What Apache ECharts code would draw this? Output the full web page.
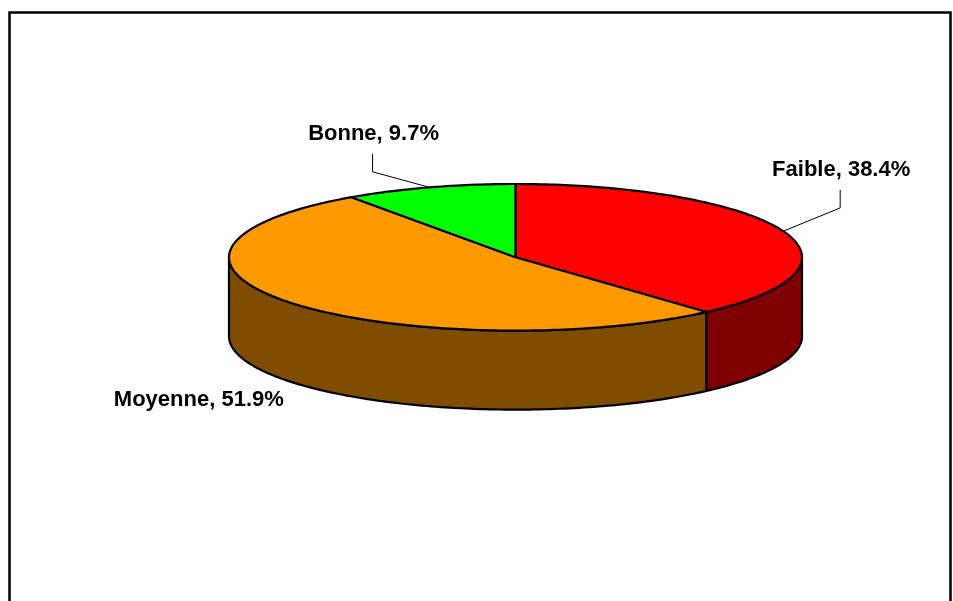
<!DOCTYPE html>
<html>
<head>
<meta charset="utf-8">
<script src="https://cdn.jsdelivr.net/npm/echarts@6/dist/echarts.min.js"></script>
<style>
  html, body { margin: 0; padding: 0; background: #fff; }
  #chart { width: 953px; height: 601px; }
</style>
</head>
<body>
<div id="chart"></div>
<script>
// Survey result shares
const categories = ['Faible', 'Moyenne', 'Bonne'];
const shares = [38.4, 51.9, 9.7];
const topColors = ['#FF0000', '#FF9900', '#00FF00'];
const sideColors = ['#800000', '#804C00', '#008000'];

// Pie thickness, in units of the ellipse's vertical radius
const DEPTH = 1.078;
const LABEL_FONT = 'bold 22px "Liberation Sans", Arial, sans-serif';

const total = shares.reduce((a, b) => a + b, 0);
const starts = [];
let acc = 0;
shares.forEach(v => { starts.push(acc); acc += v; });

function arcPoints(api, a0, a1, level) {
  const pts = [];
  const steps = Math.max(2, Math.ceil((a1 - a0) / (Math.PI / 180)));
  for (let k = 0; k <= steps; k++) {
    const t = a0 + (a1 - a0) * k / steps;
    pts.push(api.coord([Math.sin(t), Math.cos(t) - level * DEPTH]));
  }
  return pts;
}

function renderSlice(params, api) {
  const i = params.dataIndex;
  const value = api.value(0);
  const a0 = starts[i] / total * Math.PI * 2;
  const a1 = (starts[i] + value) / total * Math.PI * 2;
  const children = [];
  const lineStyle = { stroke: '#000', lineWidth: 2.2, lineJoin: 'round' };

  // front wall, visible between 90 and 270 degrees
  const f0 = Math.max(a0, Math.PI / 2);
  const f1 = Math.min(a1, Math.PI * 1.5);
  if (f1 > f0) {
    const top = arcPoints(api, f0, f1, 0);
    const bottom = arcPoints(api, f0, f1, 1).reverse();
    children.push({
      type: 'polygon', z2: 1,
      shape: { points: top.concat(bottom) },
      style: Object.assign({ fill: sideColors[i] }, lineStyle)
    });
  }

  // top face
  const topPts = [api.coord([0, 0])].concat(arcPoints(api, a0, a1, 0));
  children.push({
    type: 'polygon', z2: 2,
    shape: { points: topPts },
    style: Object.assign({ fill: topColors[i] }, lineStyle)
  });

  // data label
  const m = (a0 + a1) / 2;
  const text = categories[i] + ', ' + value.toFixed(1) + '%';
  const dir = Math.sin(m) >= 0 ? 1 : -1;
  if (Math.cos(m) < 0) {
    const p = api.coord([Math.sin(m), Math.cos(m) - DEPTH]);
    children.push({
      type: 'text', z2: 5,
      style: {
        text: text, x: p[0] + dir * 7, y: p[1] + 18,
        font: LABEL_FONT, fill: '#000',
        align: dir > 0 ? 'left' : 'right', textAlign: dir > 0 ? 'left' : 'right',
        verticalAlign: 'middle', textVerticalAlign: 'middle'
      }
    });
  } else {
    const p = api.coord([Math.sin(m), Math.cos(m)]);
    const rise = 12 + 12 * Math.abs(Math.sin(m));
    const elbow = [p[0] + dir * 57, p[1] - rise];
    const tip = [elbow[0], elbow[1] - 18];
    children.push({
      type: 'polyline', z2: 4,
      shape: { points: [p, elbow, tip] },
      style: { stroke: '#000', lineWidth: 1, fill: null }
    });
    children.push({
      type: 'text', z2: 5,
      style: {
        text: text, x: tip[0] + 1, y: tip[1] - 20,
        font: LABEL_FONT, fill: '#000',
        align: 'center', textAlign: 'center',
        verticalAlign: 'middle', textVerticalAlign: 'middle'
      }
    });
  }
  return { type: 'group', children: children };
}

const chart = echarts.init(document.getElementById('chart'), null, { renderer: 'canvas' });
chart.setOption({
  animation: false,
  backgroundColor: '#fff',
  graphic: [{
    type: 'rect', z: 100,
    shape: { x: 9.5, y: 12.5, width: 941, height: 620 },
    style: { fill: null, stroke: '#000', lineWidth: 2.5 }
  }],
  grid: { left: 229, top: 184, width: 573, height: 73.3 * (2 + DEPTH) },
  xAxis: { type: 'value', min: -1, max: 1, show: false },
  yAxis: { type: 'value', min: -1 - DEPTH, max: 1, show: false },
  series: [{
    type: 'custom',
    coordinateSystem: 'cartesian2d',
    renderItem: renderSlice,
    data: shares.map((v, i) => ({ name: categories[i], value: [v, i] }))
  }]
});
</script>
</body>
</html>
